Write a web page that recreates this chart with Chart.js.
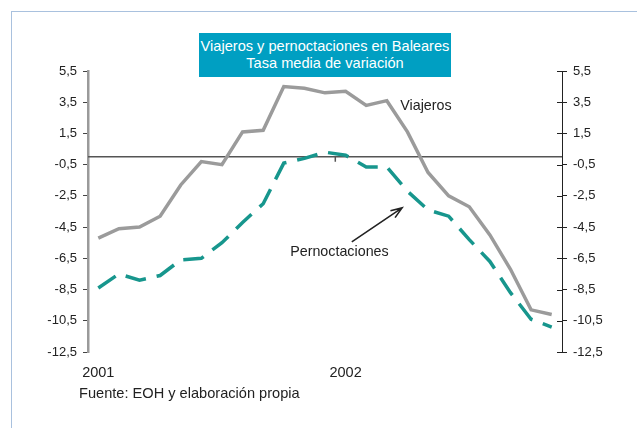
<!DOCTYPE html>
<html>
<head>
<meta charset="utf-8">
<script src="https://cdn.jsdelivr.net/npm/chart.js@4.4.1/dist/chart.umd.min.js"></script>
<style>
  body { margin: 0; background: #fff; }
  #wrap { position: relative; width: 637px; height: 428px; overflow: hidden; font-family: "Liberation Sans", Arial, sans-serif; }
  #marco { position: absolute; left: 11px; top: 11px; width: 700px; height: 500px; border-top: 1.5px solid #a9c1de; border-left: 1.5px solid #a9c1de; }
  canvas { position: absolute; left: 0; top: 0; }
  #titulo { position: absolute; left: 199px; top: 33px; width: 252px; height: 44px; background: #009fc2; color: #fff; font-size: 14.6px; line-height: 16.6px; text-align: center; padding-top: 5px; box-sizing: border-box; white-space: nowrap; }
  #fuente { position: absolute; left: 79px; top: 385px; font-size: 14.6px; line-height: 17px; color: #222; }
</style>
</head>
<body>
<div id="wrap">
  <div id="marco"></div>
  <canvas id="grafico" width="637" height="428"></canvas>
  <div id="titulo">Viajeros y pernoctaciones en Baleares<br>Tasa media de variación</div>
  <div id="fuente">Fuente: EOH y elaboración propia</div>
</div>
<script>
// meses de enero 2001 a noviembre 2002
const meses = ['ene-01','feb-01','mar-01','abr-01','may-01','jun-01','jul-01','ago-01','sep-01','oct-01','nov-01','dic-01',
               'ene-02','feb-02','mar-02','abr-02','may-02','jun-02','jul-02','ago-02','sep-02','oct-02','nov-02'];
const viajeros = [-5.2, -4.6, -4.5, -3.8, -1.8, -0.3, -0.5, 1.6, 1.7, 4.5, 4.4, 4.1,
                  4.2, 3.3, 3.6, 1.6, -1.0, -2.5, -3.2, -5.0, -7.2, -9.8, -10.1];
const pernoctaciones = [-8.4, -7.5, -7.9, -7.6, -6.6, -6.5, -5.5, -4.2, -3.0, -0.4, -0.1, 0.3,
                        0.1, -0.65, -0.65, -2.2, -3.4, -3.8, -5.3, -6.7, -8.7, -10.4, -10.9];
const ticksY = [5.5, 3.5, 1.5, -0.5, -2.5, -4.5, -6.5, -8.5, -10.5, -12.5];

const fuente = '"Liberation Sans", Arial, sans-serif';
Chart.defaults.font.family = fuente;
Chart.defaults.color = '#222';

const fmt = v => v.toFixed(1).replace('.', ',');
const ponerTicks = s => { s.ticks = ticksY.map(v => ({ value: v })); };

// linea del cero, marca de cambio de año, textos y flecha
const extras = {
  id: 'extras',
  beforeDatasetsDraw(chart) {
    const { ctx, chartArea: a, scales: { x, y } } = chart;
    const y0 = y.getPixelForValue(0);
    const iAnio = meses.indexOf('ene-02');
    const xb = (x.getPixelForValue(iAnio - 1) + x.getPixelForValue(iAnio)) / 2;
    ctx.save();
    ctx.strokeStyle = '#555';
    ctx.lineWidth = 1.5;
    ctx.beginPath();
    ctx.moveTo(a.left, y0);
    ctx.lineTo(a.right, y0);
    ctx.moveTo(xb, y0);
    ctx.lineTo(xb, y0 + 5);
    ctx.stroke();
    ctx.strokeStyle = '#222';
    ctx.lineWidth = 1;
    ctx.beginPath();
    ticksY.forEach(v => {
      const py = Math.round(y.getPixelForValue(v)) + 0.5;
      ctx.moveTo(a.right - 5, py);
      ctx.lineTo(a.right, py);
    });
    ctx.stroke();
    ctx.restore();
  },
  afterDraw(chart) {
    const { ctx, scales: { x, y } } = chart;
    ctx.save();
    ctx.fillStyle = '#222';
    ctx.font = '14.3px ' + fuente;
    ctx.textBaseline = 'middle';
    ctx.textAlign = 'left';
    ctx.fillText('Viajeros', x.getPixelForValue(14.65), y.getPixelForValue(3.25));
    ctx.textAlign = 'center';
    ctx.fillText('Pernoctaciones', x.getPixelForValue(11.7), y.getPixelForValue(-6.1));
    // flecha
    const x1 = x.getPixelForValue(12.3), y1 = y.getPixelForValue(-5.45);
    const x2 = x.getPixelForValue(14.74), y2 = y.getPixelForValue(-3.27);
    const ang = Math.atan2(y2 - y1, x2 - x1);
    ctx.strokeStyle = '#222';
    ctx.lineWidth = 1.6;
    ctx.beginPath();
    ctx.moveTo(x1, y1);
    ctx.lineTo(x2, y2);
    ctx.moveTo(x2 - 12 * Math.cos(ang - 0.35), y2 - 12 * Math.sin(ang - 0.35));
    ctx.lineTo(x2, y2);
    ctx.lineTo(x2 - 12 * Math.cos(ang + 0.35), y2 - 12 * Math.sin(ang + 0.35));
    ctx.stroke();
    ctx.restore();
  }
};

const ctx = document.getElementById('grafico').getContext('2d');
const grafico = new Chart(ctx, {
  type: 'line',
  data: {
    labels: meses,
    datasets: [{
      label: 'Viajeros',
      data: viajeros,
      borderColor: '#9b9b9b',
      borderWidth: 3.5,
      pointRadius: 0,
      tension: 0,
      yAxisID: 'y'
    }, {
      label: 'Pernoctaciones',
      data: pernoctaciones,
      borderColor: '#17968d',
      borderWidth: 3.5,
      borderDash: [21, 11],
      pointRadius: 0,
      tension: 0,
      yAxisID: 'y'
    }]
  },
  options: {
    responsive: false,
    animation: false,
    layout: { padding: { top: 71, left: 0, right: 0, bottom: 0 } },
    plugins: { legend: { display: false }, tooltip: { enabled: false } },
    scales: {
      x: {
        offset: true,
        grid: { display: false },
        border: { display: false },
        ticks: {
          autoSkip: false,
          maxRotation: 0,
          padding: 4,
          font: { size: 14.5 },
          callback(v) {
            const m = meses[v];
            return m.startsWith('ene') ? '20' + m.slice(4) : '';
          }
        },
        afterFit(s) { s.height = 76; }
      },
      y: {
        position: 'left',
        min: -12.5,
        max: 5.5,
        afterBuildTicks: ponerTicks,
        grid: { drawOnChartArea: false, tickLength: 5, tickColor: '#444' },
        border: { color: '#9a9a9a', width: 2.5 },
        ticks: { padding: 6, font: { size: 13 }, callback: fmt },
        afterFit(s) { s.width = 88; }
      },
      y2: {
        position: 'right',
        min: -12.5,
        max: 5.5,
        afterBuildTicks: ponerTicks,
        grid: { drawOnChartArea: false, tickLength: 5, tickColor: '#222' },
        border: { color: '#222', width: 1 },
        ticks: { padding: 6, font: { size: 13 }, callback: fmt },
        afterFit(s) { s.width = 75; }
      }
    }
  },
  plugins: [extras]
});
</script>
</body>
</html>
